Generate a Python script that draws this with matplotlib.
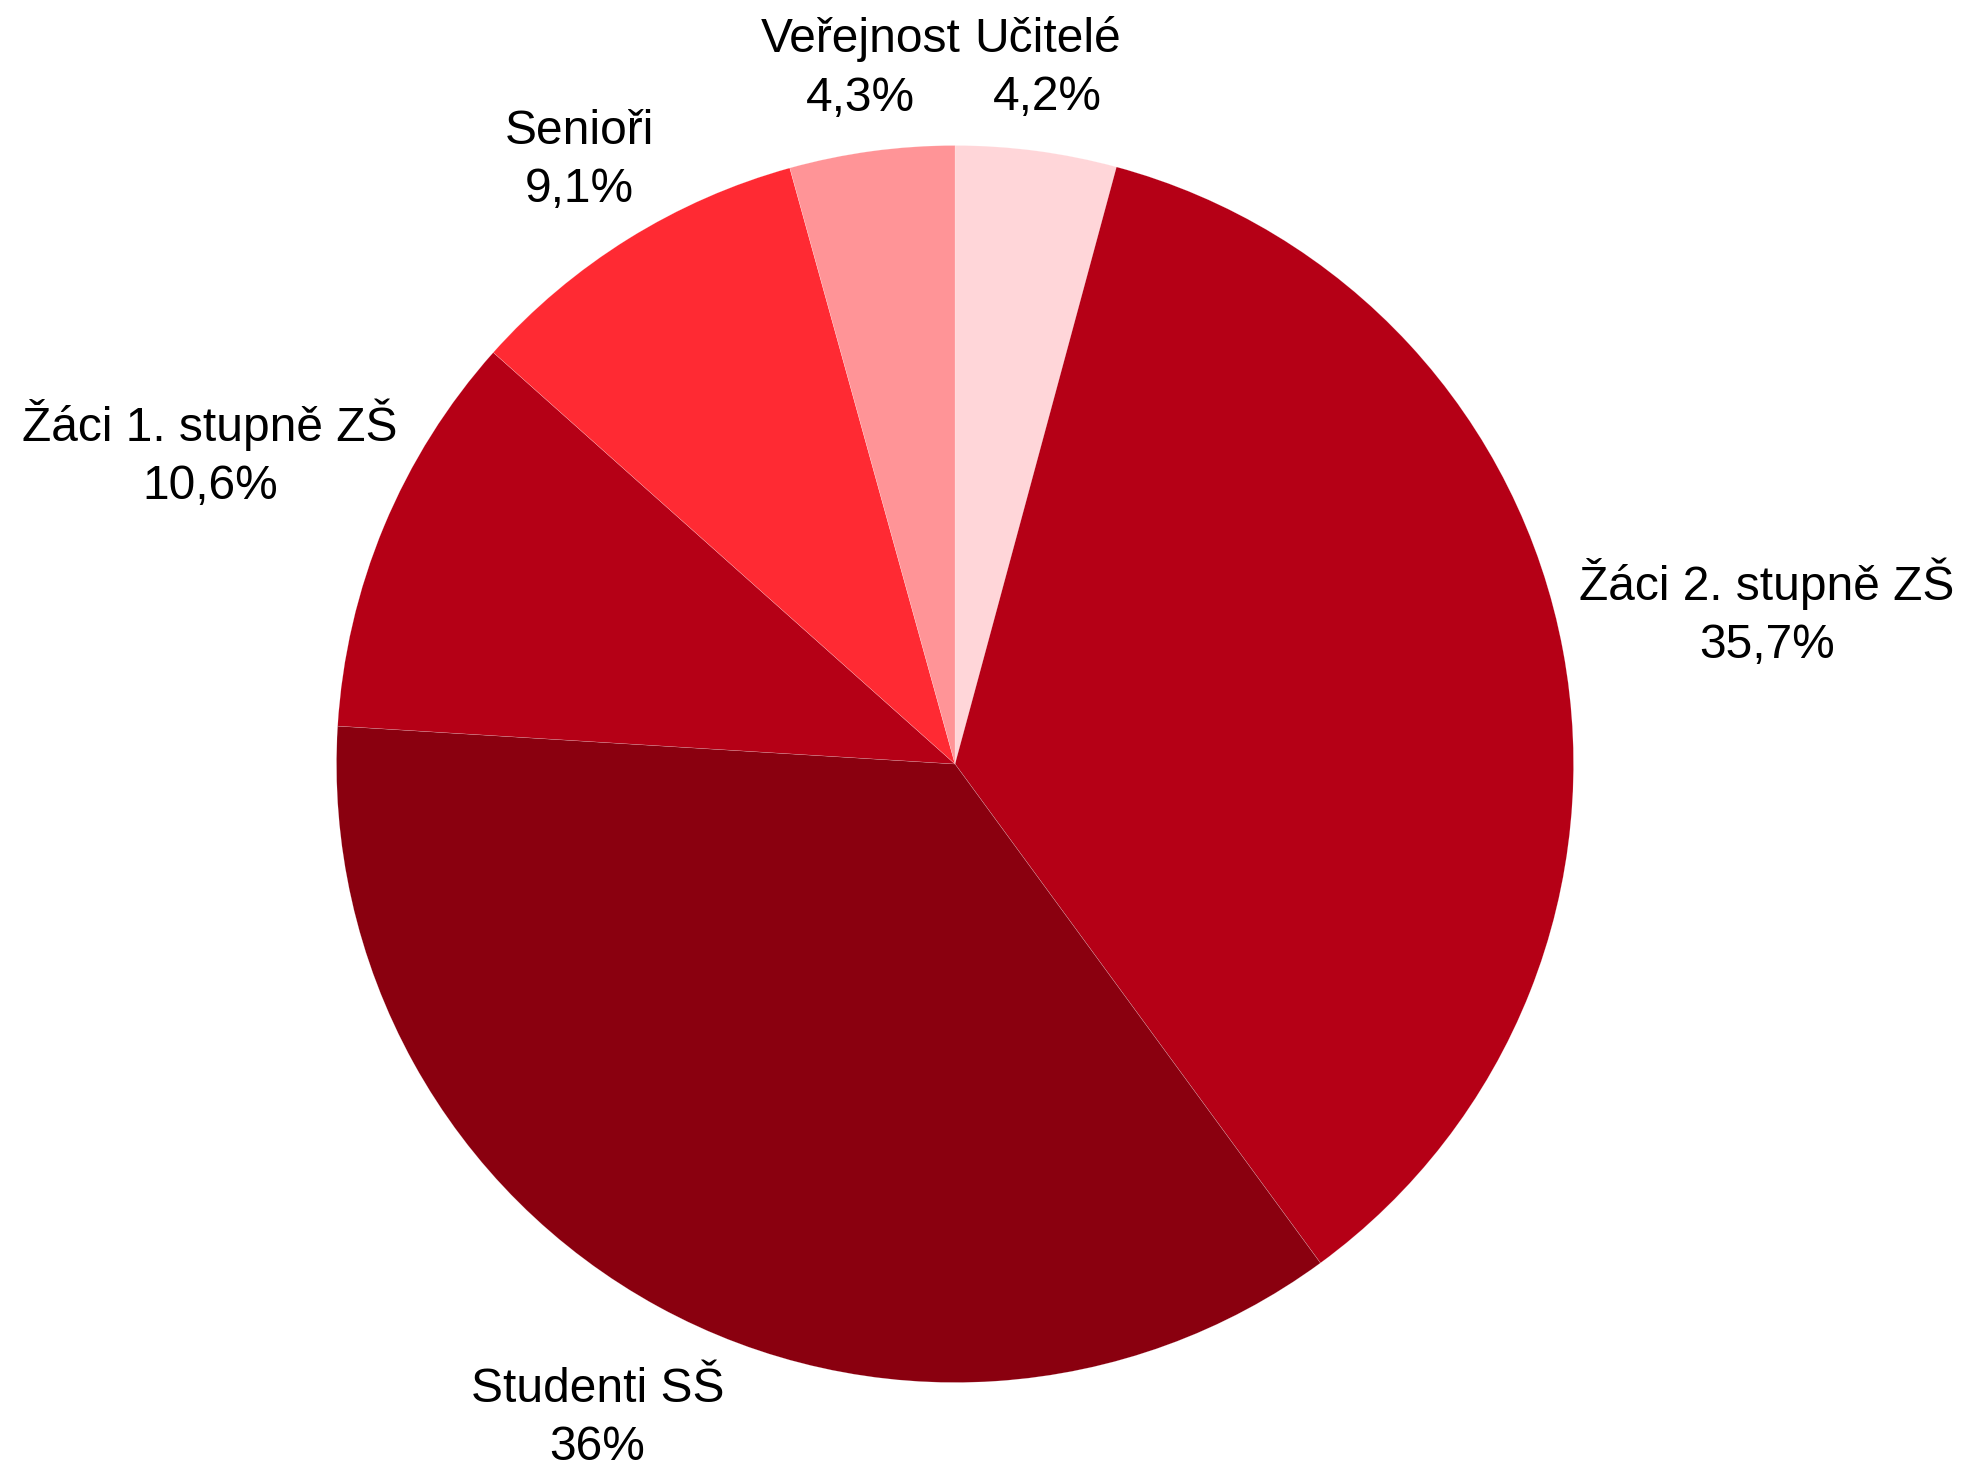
import numpy as np
import matplotlib
matplotlib.use("Agg")
import matplotlib.pyplot as plt

categories = ["Učitelé", "Žáci 2. stupně ZŠ", "Studenti SŠ", "Žáci 1. stupně ZŠ", "Senioři", "Veřejnost"]
values = [4.2, 35.7, 36.0, 10.6, 9.1, 4.3]
value_labels = ["4,2%", "35,7%", "36%", "10,6%", "9,1%", "4,3%"]

colors = ["#FFD6D9", "#B50016", "#8A000F", "#B50016", "#FF2A33", "#FF9497"]
label_dist = [1.134, 1.335, 1.206, 1.305, 1.149, 1.134]

W, H = 1967, 1471
fig = plt.figure(figsize=(W / 100, H / 100), dpi=100)
ax = fig.add_axes([0, 0, 1, 1])

cx, cy, r = 955, H - 764, 618.5
wedges, _ = ax.pie(values, colors=colors, startangle=90, counterclock=False,
                   center=(cx, cy), radius=r, frame=True,
                   wedgeprops=dict(linewidth=0.3, edgecolor="#ffffff60"))
ax.set_xlim(0, W)
ax.set_ylim(0, H)
ax.set_aspect("equal")
ax.axis("off")

for w, cat, vl, d in zip(wedges, categories, value_labels, label_dist):
    th = np.deg2rad((w.theta1 + w.theta2) / 2)
    x = cx + d * r * np.cos(th)
    y = cy + d * r * np.sin(th)
    ax.text(x, y, f"{cat}\n{vl}", ha="center", va="center", fontsize=34.5,
            family=["Liberation Sans", "DejaVu Sans"], linespacing=1.38, color="black")

fig.savefig("out.png", dpi=100)
